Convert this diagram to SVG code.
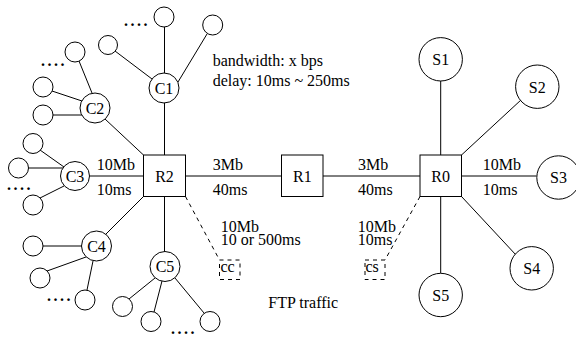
<svg xmlns="http://www.w3.org/2000/svg" width="576" height="337" viewBox="0 0 576 337">
<style>
text{font-family:"Liberation Serif","Times New Roman",serif;font-size:16px;fill:#000}
.c{text-anchor:middle}
.dots{letter-spacing:2.5px;font-weight:bold}
.n{fill:#fff;stroke:#000;stroke-width:1}
.l{stroke:#000;stroke-width:1;fill:none}
.d{stroke:#000;stroke-width:1;fill:none;stroke-dasharray:4 4}
</style>
<rect width="576" height="337" fill="#fff"/>
<g id="connectors">
<line class="l" x1="164.5" y1="27" x2="164.5" y2="155"/>
<line class="l" x1="115" y1="51" x2="152" y2="79"/>
<line class="l" x1="207" y1="34" x2="178" y2="82"/>
<line class="l" x1="79" y1="61" x2="92" y2="93"/>
<line class="l" x1="52" y1="91" x2="82" y2="101"/>
<line class="l" x1="53" y1="115" x2="82" y2="115"/>
<line class="l" x1="105" y1="119" x2="143.5" y2="155"/>
<line class="l" x1="40" y1="150" x2="64" y2="167"/>
<line class="l" x1="28" y1="168" x2="63" y2="168"/>
<line class="l" x1="40" y1="198" x2="64" y2="186"/>
<line class="l" x1="89.5" y1="176" x2="143.5" y2="176"/>
<line class="l" x1="43" y1="246" x2="82" y2="246"/>
<line class="l" x1="47" y1="271" x2="86" y2="257"/>
<line class="l" x1="87" y1="290" x2="93" y2="261"/>
<line class="l" x1="106" y1="234" x2="143.5" y2="196.5"/>
<line class="l" x1="164.5" y1="196.5" x2="164.5" y2="252"/>
<line class="l" x1="129" y1="299" x2="155" y2="278"/>
<line class="l" x1="154" y1="312" x2="162" y2="281"/>
<line class="l" x1="204" y1="313" x2="175" y2="278"/>
<line class="l" x1="185.5" y1="176" x2="281.5" y2="176"/>
<line class="l" x1="323" y1="176" x2="420" y2="176"/>
<line class="l" x1="440.7" y1="81" x2="440.7" y2="155"/>
<line class="l" x1="521.5" y1="99.5" x2="461.5" y2="155"/>
<line class="l" x1="461.5" y1="176" x2="536.5" y2="176"/>
<line class="l" x1="461.5" y1="196.5" x2="516" y2="255"/>
<line class="l" x1="440.7" y1="196.5" x2="440.7" y2="273"/>
<line class="d" x1="185.5" y1="196.5" x2="219.5" y2="260"/>
<line class="d" x1="420" y1="196.5" x2="385" y2="260"/>
</g>
<g id="C1"><circle class="n" cx="164" cy="88" r="15"/><text class="c" x="164" y="93.5">C1</text></g>
<g id="C1a"><circle class="n" cx="164" cy="17" r="10"/></g>
<g id="C1b"><circle class="n" cx="108" cy="45" r="9.5"/></g>
<g id="C1c"><circle class="n" cx="212.7" cy="25" r="10"/></g>
<text class="dots" x="124" y="26">....</text>
<g id="C2"><circle class="n" cx="95" cy="108" r="15"/><text class="c" x="95" y="113.5">C2</text></g>
<g id="C2a"><circle class="n" cx="75" cy="52" r="10"/></g>
<g id="C2b"><circle class="n" cx="43" cy="87" r="10"/></g>
<g id="C2c"><circle class="n" cx="43" cy="115" r="10"/></g>
<text class="dots" x="41" y="66">....</text>
<g id="C3"><circle class="n" cx="75" cy="176" r="14.5"/><text class="c" x="75" y="181.5">C3</text></g>
<g id="C3a"><circle class="n" cx="33" cy="143.5" r="10"/></g>
<g id="C3b"><circle class="n" cx="18.5" cy="168" r="10"/></g>
<g id="C3c"><circle class="n" cx="33" cy="205" r="10"/></g>
<text class="dots" x="7" y="190">....</text>
<g id="C4"><circle class="n" cx="96.5" cy="246" r="15"/><text class="c" x="96.5" y="251.5">C4</text></g>
<g id="C4a"><circle class="n" cx="33" cy="246" r="10"/></g>
<g id="C4b"><circle class="n" cx="40" cy="278" r="10"/></g>
<g id="C4c"><circle class="n" cx="85" cy="300" r="10"/></g>
<text class="dots" x="47" y="301">....</text>
<g id="C5"><circle class="n" cx="165" cy="266.5" r="15"/><text class="c" x="165" y="272">C5</text></g>
<g id="C5a"><circle class="n" cx="122.5" cy="306.5" r="10"/></g>
<g id="C5b"><circle class="n" cx="151" cy="321.5" r="10"/></g>
<g id="C5c"><circle class="n" cx="210" cy="321.5" r="10"/></g>
<text class="dots" x="171" y="334">....</text>
<g id="R2"><rect class="n" x="143.5" y="155" width="42" height="41.5"/><text class="c" x="164.5" y="181.5">R2</text></g>
<g id="R1"><rect class="n" x="281.5" y="155" width="41.5" height="41.5"/><text class="c" x="302.3" y="181.5">R1</text></g>
<g id="R0"><rect class="n" x="420" y="155" width="41.5" height="41.5"/><text class="c" x="440.7" y="181.5">R0</text></g>
<g id="S1"><circle class="n" cx="440.7" cy="59.3" r="21.7"/><text class="c" x="440.7" y="65">S1</text></g>
<g id="S2"><circle class="n" cx="537.3" cy="86.7" r="21.7"/><text class="c" x="537.3" y="92.5">S2</text></g>
<g id="S3"><circle class="n" cx="558.5" cy="177.5" r="21.7"/><text class="c" x="558.5" y="183">S3</text></g>
<g id="S4"><circle class="n" cx="531.7" cy="268.3" r="21.7"/><text class="c" x="531.7" y="274">S4</text></g>
<g id="S5"><circle class="n" cx="440.7" cy="295" r="21.7"/><text class="c" x="440.7" y="300.5">S5</text></g>
<g id="cc"><rect class="d" x="219.5" y="260" width="20.5" height="19.5"/><text x="220.5" y="272">cc</text></g>
<g id="cs"><rect class="d" x="365" y="260" width="20" height="19.5"/><text x="365.5" y="272">cs</text></g>
<text x="212.7" y="66">bandwidth: x bps</text>
<text x="212.7" y="86">delay: 10ms ~ 250ms</text>
<text x="96.7" y="170">10Mb</text>
<text x="96.7" y="195">10ms</text>
<text x="212.7" y="170">3Mb</text>
<text x="212.7" y="195">40ms</text>
<text x="358" y="170">3Mb</text>
<text x="358" y="195">40ms</text>
<text x="482.7" y="170">10Mb</text>
<text x="482.7" y="195">10ms</text>
<text x="220.7" y="231.5">10Mb</text>
<text x="220.7" y="245">10 or 500ms</text>
<text x="357.7" y="231.5">10Mb</text>
<text x="357.7" y="245">10ms</text>
<text x="268.3" y="307.5">FTP traffic</text>
</svg>
